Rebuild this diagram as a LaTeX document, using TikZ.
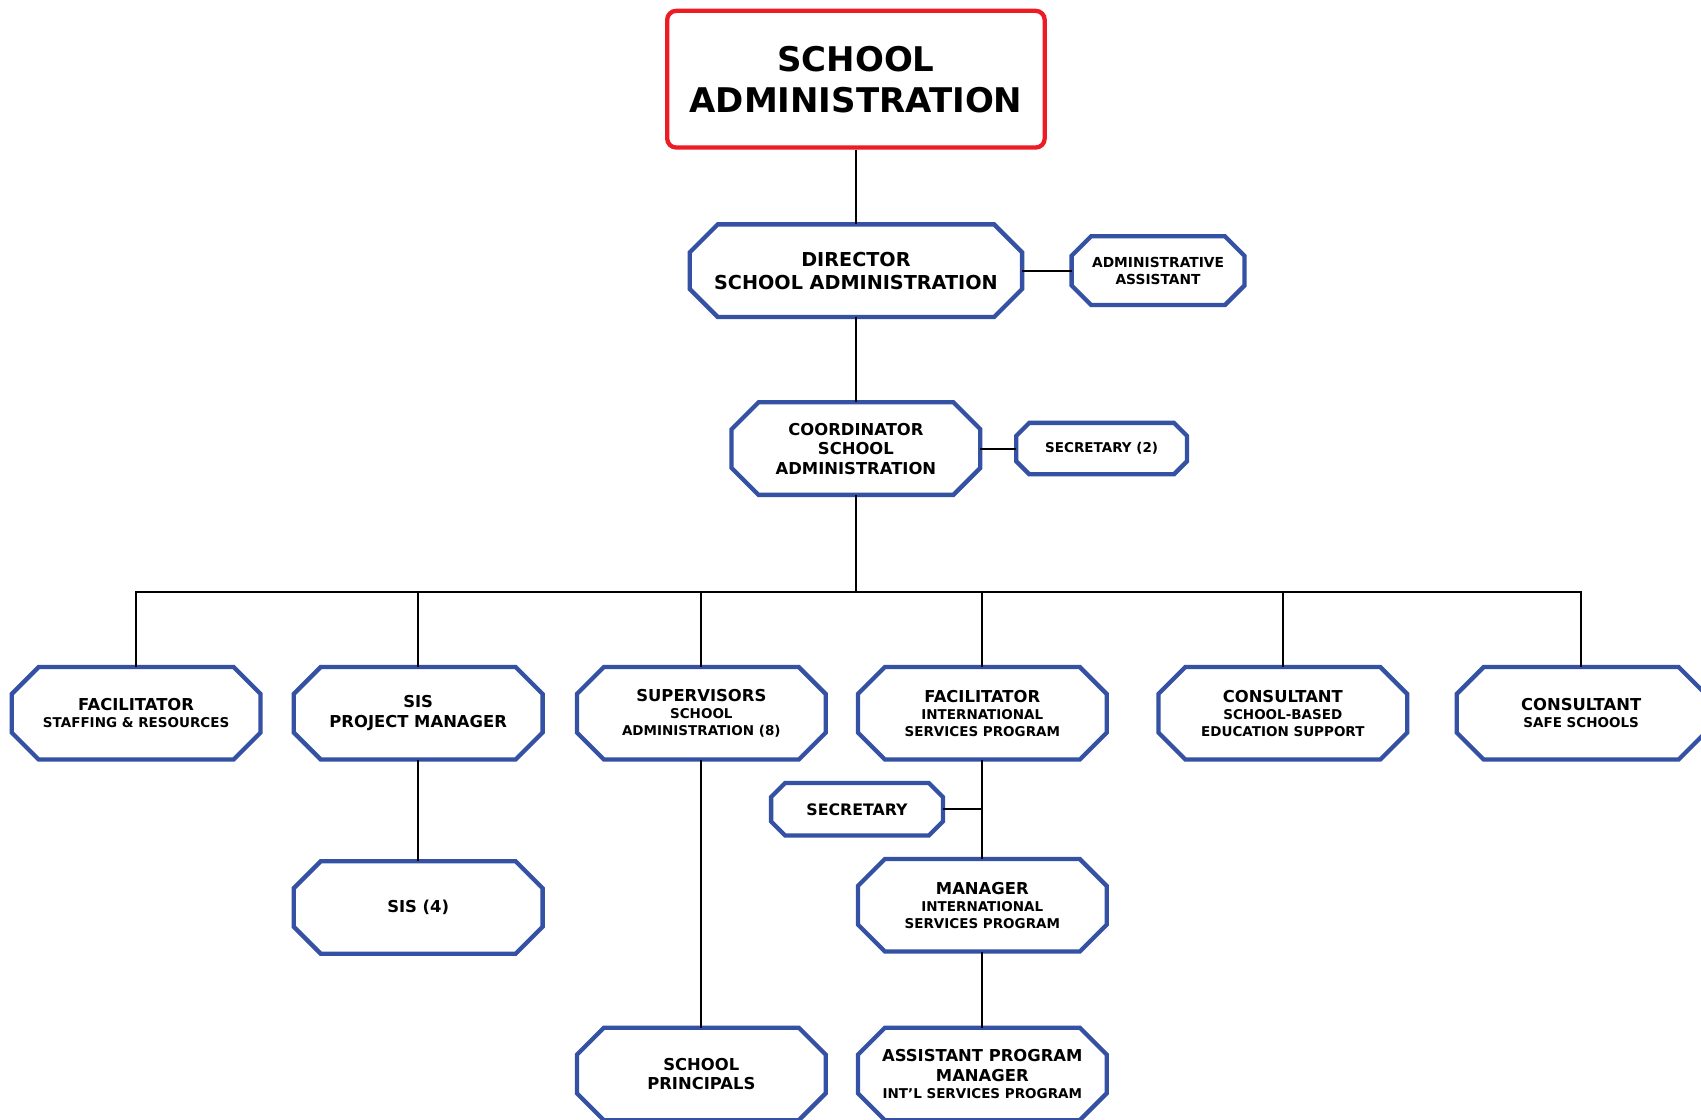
\documentclass[tikz,border=0pt]{standalone}
\usepackage{fontspec}
\setmainfont{DejaVu Sans}
\definecolor{octblue}{RGB}{52,81,163}
\definecolor{topred}{RGB}{237,28,36}
\newcommand\sub[1]{{\fontsize{13.5}{15}\selectfont #1}}
\newcommand\octo[2]{\draw[octline] ([xshift=#2]#1.north west) -- ([xshift=-#2]#1.north east) -- ([yshift=-#2]#1.north east) -- ([yshift=#2]#1.south east) -- ([xshift=-#2]#1.south east) -- ([xshift=#2]#1.south west) -- ([yshift=#2]#1.south west) -- ([yshift=-#2]#1.north west) -- cycle;}
\tikzset{
  octline/.style={draw=octblue, line width=4.3pt, line join=miter},
  conn/.style={draw=black, line width=2.1pt},
  box/.style={rectangle, inner sep=0pt, align=center, font=\bfseries\fontsize{16.4}{17}\selectfont, minimum width=248.4pt, minimum height=92.2pt},
  smallbox/.style={rectangle, inner sep=0pt, align=center, font=\bfseries},
}
\begin{document}
\begin{tikzpicture}[x=1.0848pt, y=-1.0848pt]
\useasboundingbox (0,0) rectangle (1568,1032);
\fill[white] (0,0) rectangle (1568,1032);

\node[draw=topred, line width=4.3pt, rounded corners=9pt, minimum width=377.5pt, minimum height=136.7pt, align=center, font=\bfseries\fontsize{34}{41}\selectfont] (top) at (789,73) {SCHOOL\\ADMINISTRATION};

\node[box, minimum width=332pt, font=\bfseries\fontsize{19.2}{23}\selectfont] (dir) at (789,249.5) {DIRECTOR\\SCHOOL ADMINISTRATION};
\node[smallbox, minimum width=172.5pt, minimum height=68.3pt, font=\bfseries\fontsize{13.8}{17}\selectfont] (aa) at (1067.5,249.5) {ADMINISTRATIVE\\ASSISTANT};
\node[box, font=\bfseries\fontsize{16.4}{19.5}\selectfont] (coord) at (789,413.5) {COORDINATOR\\SCHOOL\\ADMINISTRATION};
\node[smallbox, minimum width=170.3pt, minimum height=51pt, font=\bfseries\fontsize{13.5}{16}\selectfont] (sectwo) at (1015.5,413.5) {SECRETARY (2)};

\node[box] (fsr) at (125.5,657.5) {FACILITATOR\\\sub{STAFFING \& RESOURCES}};
\node[box] (sispm) at (385.5,657.5) {SIS\\[2.5pt]PROJECT MANAGER};
\node[box] (sup) at (646.5,657.5) {SUPERVISORS\\\sub{SCHOOL}\\\sub{ADMINISTRATION (8)}};
\node[box] (fisp) at (905.5,657.5) {FACILITATOR\\\sub{INTERNATIONAL}\\\sub{SERVICES PROGRAM}};
\node[box] (cons) at (1182.5,657.5) {CONSULTANT\\\sub{SCHOOL-BASED}\\\sub{EDUCATION SUPPORT}};
\node[box] (safe) at (1457.5,657.5) {CONSULTANT\\\sub{SAFE SCHOOLS}};

\node[box] (sisf) at (385.5,836.5) {SIS (4)};
\node[smallbox, minimum width=171.4pt, minimum height=52pt, font=\bfseries\fontsize{15.8}{18}\selectfont] (sec) at (790,746) {SECRETARY};
\node[box] (mgr) at (905.5,834.5) {MANAGER\\\sub{INTERNATIONAL}\\\sub{SERVICES PROGRAM}};
\node[box] (prin) at (646.5,990) {SCHOOL\\[2.5pt]PRINCIPALS};
\node[box] (apm) at (905.5,990) {ASSISTANT PROGRAM\\[2.5pt]MANAGER\\\sub{INT’L SERVICES PROGRAM}};

\octo{dir}{28pt}
\octo{aa}{19.5pt}
\octo{coord}{27pt}
\octo{sectwo}{13pt}
\foreach \n in {fsr,sispm,sup,fisp,cons,safe,sisf,mgr,prin,apm} {\octo{\n}{27pt}}
\octo{sec}{14pt}

\coordinate (bus) at (789,546);
\draw[conn] (top.south) -- (dir.north);
\draw[conn] (dir.east) -- (aa.west);
\draw[conn] (dir.south) -- (coord.north);
\draw[conn] (coord.east) -- (sectwo.west);
\draw[conn] (coord.south) -- (bus);
\foreach \n in {fsr,sispm,sup,fisp,cons,safe} {\draw[conn] (\n.north) |- (bus);}
\draw[conn] (sispm.south) -- (sisf.north);
\draw[conn] (sup.south) -- (prin.north);
\draw[conn] (fisp.south) -- (mgr.north);
\draw[conn] (sec.east) -- (sec.east -| fisp.south);
\draw[conn] (mgr.south) -- (apm.north);
\end{tikzpicture}
\end{document}
